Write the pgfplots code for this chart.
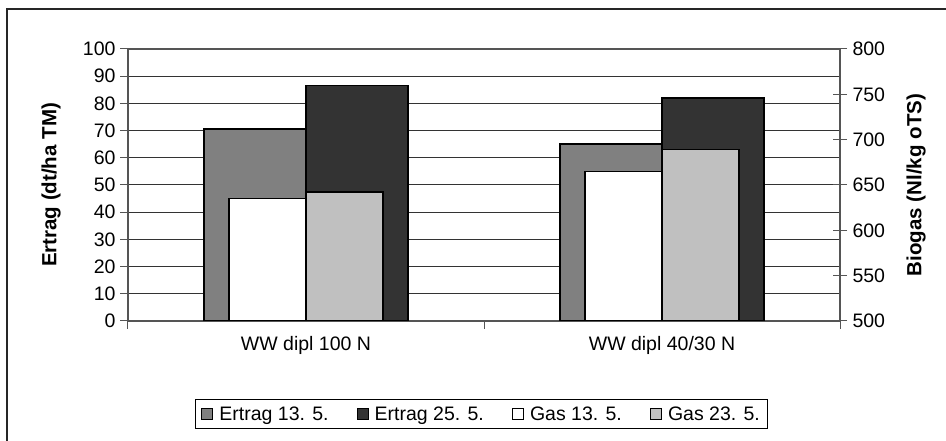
\documentclass[border=0pt]{standalone}
\usepackage{fontspec}
\setmainfont{Liberation Sans}
\usepackage{pgfplots}
\pgfplotsset{compat=1.18}

\definecolor{ertragA}{HTML}{808080}
\definecolor{ertragB}{HTML}{333333}
\definecolor{gasA}{HTML}{FFFFFF}
\definecolor{gasB}{HTML}{C0C0C0}
\definecolor{axisgray}{HTML}{555555}

\newcommand{\chartfont}{\fontsize{19.5}{23}\selectfont}
\newcommand{\labelfont}{\fontsize{20.5}{24}\selectfont\bfseries}

\begin{document}
\begin{tikzpicture}[x=1pt,y=1pt,font=\chartfont]
\useasboundingbox (0,0) rectangle (946,441);
% outer chart frame (top and left edge)
\draw[line width=2pt, black!85] (6.5,0) -- (6.5,432) -- (946,432);

\pgfplotsset{
  common/.style={
    scale only axis, width=712pt, height=272pt,
    at={(128pt,120pt)}, anchor=south west,
    xmin=-0.5, xmax=1.5,
    /pgf/number format/assume math mode=true,
    tick label style={font=\chartfont},
    clip=true,
  },
}

% yield bars on the left axis
\begin{axis}[common,
  ymin=0, ymax=100, ytick={0,10,...,100},
  axis y line*=left, axis x line*=bottom,
  axis line style={axisgray, line width=1.2pt},
  ymajorgrids, grid style={black!80, line width=1pt},
  tick align=outside, major tick length=8pt,
  tick style={axisgray, line width=1pt},
  xtick={0,1}, xticklabels={WW dipl 100 N, WW dipl 40/30 N},
  xtick style={draw=none},
  xticklabel style={anchor=north, yshift=-4pt},
  yticklabel style={anchor=east, xshift=-1pt},
  extra x ticks={-0.5,0.5,1.5}, extra x tick labels={},
  extra x tick style={grid=none, xtick style={draw=axisgray, line width=1pt}},
  ylabel={Ertrag (dt/ha TM)},
  every axis y label/.style={at={(rel axis cs:0,0.5)}, xshift=-77pt, rotate=90, anchor=center,
    font=\labelfont},
]
\addplot[ybar, fill=ertragA, draw=black, line width=1.5pt, bar width=0.2865, bar shift=-0.1433]
  coordinates {(0,70.5) (1,65)};
\addplot[ybar, fill=ertragB, draw=black, line width=1.5pt, bar width=0.2865, bar shift=0.1433]
  coordinates {(0,86.5) (1,82)};
% top edge of the plot area
\draw[axisgray, line width=1.2pt] (rel axis cs:0,1) -- (rel axis cs:1,1);
\end{axis}

% biogas bars on the right axis
\begin{axis}[common,
  ymin=500, ymax=800, ytick={500,550,...,800},
  axis y line*=right, axis x line=none,
  axis line style={axisgray, line width=1.2pt},
  tick align=center, major tick length=14pt,
  tick style={axisgray, line width=1pt},
  yticklabel style={anchor=west, xshift=2pt},
  ylabel={Biogas (Nl/kg oTS)},
  every axis y label/.style={at={(rel axis cs:1,0.5)}, xshift=76pt, rotate=90, anchor=center,
    font=\labelfont},
  legend columns=4,
  legend style={at={(0.4965,-0.342)}, anchor=center, draw=black, line width=1pt,
    font=\chartfont, inner xsep=6pt, inner ysep=5pt,
    /tikz/every odd column/.append style={column sep=4pt},
    /tikz/every even column/.append style={column sep=26pt}},
  legend cell align=left,
]
\addplot[ybar, fill=gasA, draw=black, line width=1.5pt, bar width=0.2163, bar shift=-0.1081, forget plot]
  coordinates {(0,635) (1,665)};
\addplot[ybar, fill=gasB, draw=black, line width=1.5pt, bar width=0.2163, bar shift=0.1081, forget plot]
  coordinates {(0,642) (1,689)};

\addlegendimage{legend image code/.code={\draw[fill=ertragA, draw=black, line width=1.2pt] (0pt,-5.5pt) rectangle (11pt,5.5pt);}}
\addlegendentry{Ertrag 13. 5.}
\addlegendimage{legend image code/.code={\draw[fill=ertragB, draw=black, line width=1.2pt] (0pt,-5.5pt) rectangle (11pt,5.5pt);}}
\addlegendentry{Ertrag 25. 5.}
\addlegendimage{legend image code/.code={\draw[fill=gasA, draw=black, line width=1.2pt] (0pt,-5.5pt) rectangle (11pt,5.5pt);}}
\addlegendentry{Gas 13. 5.}
\addlegendimage{legend image code/.code={\draw[fill=gasB, draw=black, line width=1.2pt] (0pt,-5.5pt) rectangle (11pt,5.5pt);}}
\addlegendentry{Gas 23. 5.}
\end{axis}
\end{tikzpicture}
\end{document}
